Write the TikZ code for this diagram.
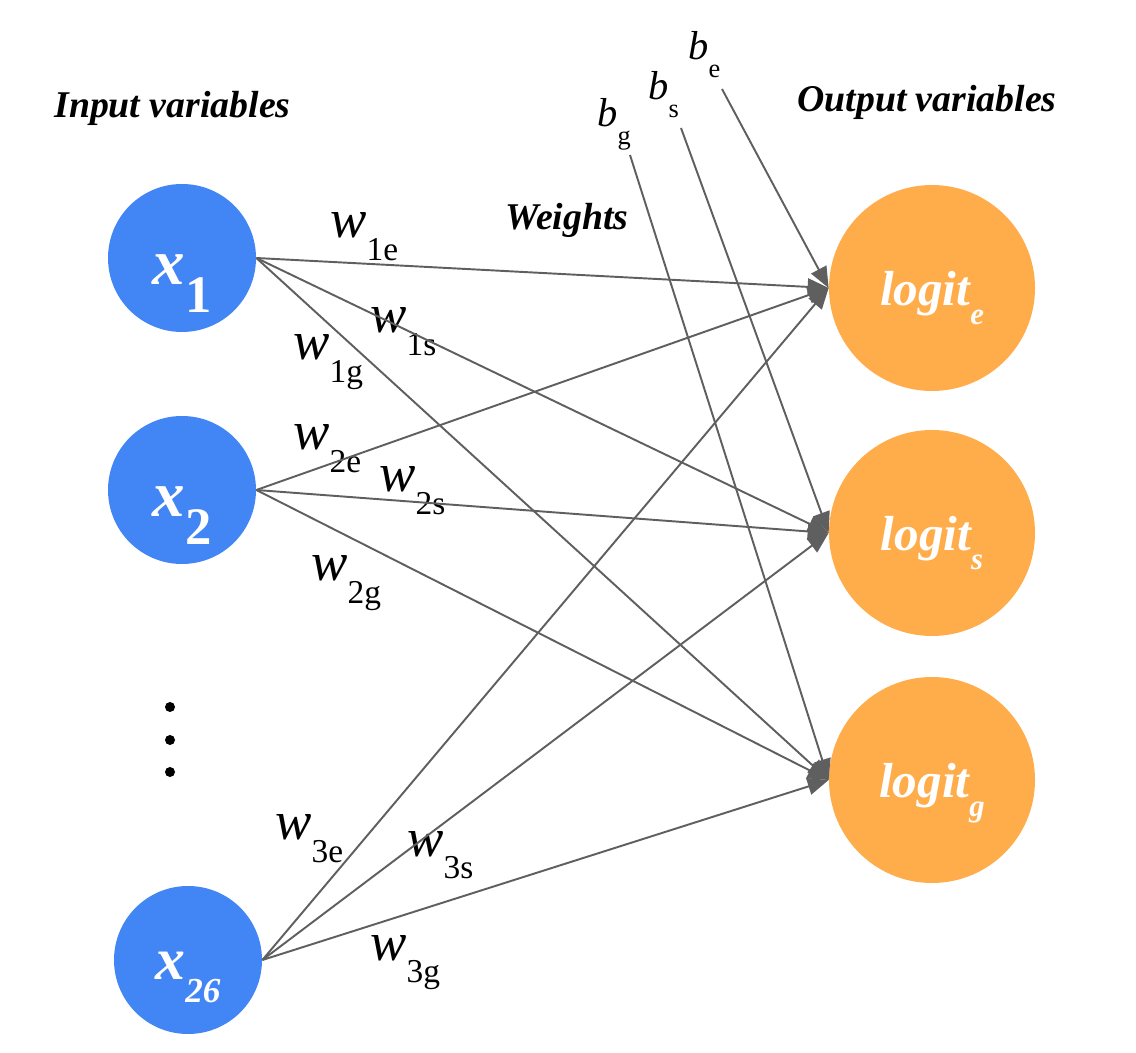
\documentclass[tikz,border=0pt]{standalone}
\usepackage{fontspec}
\setmainfont{Liberation Serif}
\usetikzlibrary{arrows.meta}
\definecolor{bleuG}{HTML}{4285F4}
\definecolor{orangeG}{HTML}{FFAD4B}
\definecolor{grisT}{HTML}{5F5F5F}
%\poids{indice} : w en italique avec son indice droit
\newcommand{\poids}[1]{\textit{w}\raisebox{-13pt}{\fontsize{19}{19}\selectfont #1}}
%\biais{indice} : b en italique avec son indice droit
\newcommand{\biais}[1]{\textit{b}\raisebox{-10pt}{\fontsize{15}{15}\selectfont #1}}

\begin{document}
\begin{tikzpicture}[
	entree/.style={circle,fill=bleuG,text=white,minimum size=2.96cm,inner sep=0pt,text depth=2pt,font=\bfseries\itshape},
	sortie/.style={circle,fill=orangeG,text=white,minimum size=4.12cm,inner sep=0pt,text height=22pt,text depth=2pt,font=\bfseries\itshape\fontsize{28}{28}\selectfont},
	titre/.style={anchor=base west,inner sep=0pt,font=\bfseries\itshape\fontsize{21.5}{21.5}\selectfont},
	etiq w/.style={anchor=base west,inner sep=0pt,font=\fontsize{31}{31}\selectfont},
	etiq b/.style={anchor=base west,inner sep=0pt,font=\fontsize{23}{23}\selectfont},
	fleche/.style={draw=grisT,line width=1.1pt,-{Triangle[length=0.42cm,width=0.34cm]}}
	]
	\useasboundingbox (0,0) rectangle (22.72,21.04);
	
		%\node (nom node) at(x,y) [style] {affichage} ;
		\node (node x1) at(3.64,15.88) [entree,text height=32pt] {\fontsize{37}{37}\selectfont x\raisebox{-16pt}{\fontsize{30}{30}\selectfont\upshape 1}} ;
		\node (node x2) at(3.64,11.24) [entree,text height=32pt] {\fontsize{37}{37}\selectfont x\raisebox{-16pt}{\fontsize{30}{30}\selectfont\upshape 2}} ;
		\node (node x26) at(3.76,1.84) [entree,text height=24pt] {\fontsize{34}{34}\selectfont x\raisebox{-13pt}{\fontsize{20}{20}\selectfont 26}} ;
		\node (node le) at(18.64,15.28) [sortie] {logit\raisebox{-11pt}{\fontsize{17.5}{17.5}\selectfont e}} ;
		\node (node ls) at(18.64,10.38) [sortie] {logit\raisebox{-11pt}{\fontsize{17.5}{17.5}\selectfont s}} ;
		\node (node lg) at(18.64,5.44) [sortie] {logit\raisebox{-11pt}{\fontsize{17.5}{17.5}\selectfont g}} ;
		
		%points de suspension
		\foreach \y in {6.90,6.24,5.60}
			\fill (3.40,\y) circle (0.1);
		
		%titres
		\node (titre entree) at(1.08,18.68) [titre] {Input variables} ;
		\node (titre poids) at(10.10,16.44) [titre] {Weights} ;
		\node (titre sortie) at(15.94,18.80) [titre] {Output variables} ;
		
		%biais : etiquette puis debut du trait
		\node (node be) at(13.76,19.84) [etiq b] {\biais{e}} ;
		\node (node bs) at(12.96,19.04) [etiq b] {\biais{s}} ;
		\node (node bg) at(11.94,18.50) [etiq b] {\biais{g}} ;
		\coordinate (debut be) at(14.44,19.26) ;
		\coordinate (debut bs) at(13.62,18.48) ;
		\coordinate (debut bg) at(12.60,17.94) ;
		
		%poids
		\node (w 1e) at(6.60,16.28) [etiq w] {\poids{1e}} ;
		\node (w 1s) at(7.40,14.38) [etiq w] {\poids{1s}} ;
		\node (w 1g) at(5.86,13.84) [etiq w] {\poids{1g}} ;
		\node (w 2e) at(5.86,12.04) [etiq w] {\poids{2e}} ;
		\node (w 2s) at(7.58,11.20) [etiq w] {\poids{2s}} ;
		\node (w 2g) at(6.22,9.42) [etiq w] {\poids{2g}} ;
		\node (w 3e) at(5.50,4.24) [etiq w] {\poids{3e}} ;
		\node (w 3s) at(8.14,3.92) [etiq w] {\poids{3s}} ;
		\node (w 3g) at(7.40,1.84) [etiq w] {\poids{3g}} ;
	
		%\path (nom node A) edge[style] (nom node B);
		\path 
		(node x1.east) edge[fleche] (node le.west)
		(node x1.east) edge[fleche] (node ls.west)
		(node x1.east) edge[fleche] (node lg.west)
		(node x2.east) edge[fleche] (node le.west)
		(node x2.east) edge[fleche] (node ls.west)
		(node x2.east) edge[fleche] (node lg.west)
		(node x26.east) edge[fleche] (node le.west)
		(node x26.east) edge[fleche] (node ls.west)
		(node x26.east) edge[fleche] (node lg.west)
		(debut be) edge[fleche] (node le.west)
		(debut bs) edge[fleche] (node ls.west)
		(debut bg) edge[fleche] (node lg.west)
		;
	\end{tikzpicture}
\end{document}
